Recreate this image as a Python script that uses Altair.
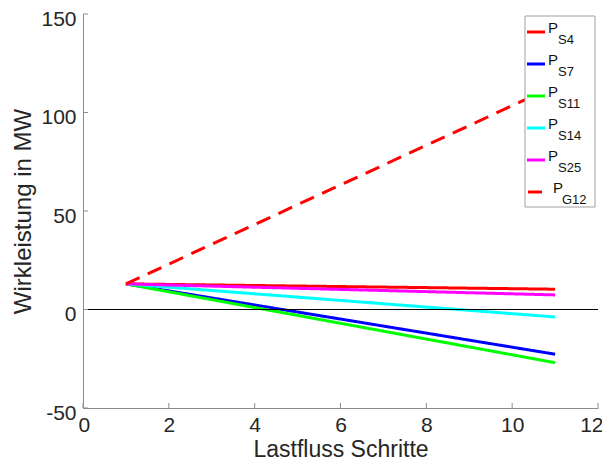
import altair as alt
import pandas as pd

# ---- data ----
steps = [1, 11]
series_names = ["S4", "S7", "S11", "S14", "S25", "G12"]
p_s4 = [13.0, 10.3]
p_s7 = [13.0, -22.7]
p_s11 = [13.0, -27.0]
p_s14 = [13.0, -3.8]
p_s25 = [13.0, 7.4]
p_g12 = [13.0, 113.5]
colors = ["#ff0000", "#0000ff", "#00ff00", "#00ffff", "#ff00ff", "#ff0000"]
x_ticks = [0, 2, 4, 6, 8, 10, 12]
y_ticks = [-50, 0, 50, 100, 150]

W, H = 515, 394
FONT = "Liberation Sans"
GRAY = "#8c8c8c"
TXT = "#262626"

rows = []
for name, vals in zip(series_names, [p_s4, p_s7, p_s11, p_s14, p_s25, p_g12]):
    for s, v in zip(steps, vals):
        rows.append({"series": name, "step": s, "value": v})
df = pd.DataFrame(rows)

xscale = alt.Scale(domain=[0, 12], nice=False, zero=False)
yscale = alt.Scale(domain=[-50, 150], nice=False, zero=False)
cscale = alt.Scale(domain=series_names, range=colors)
dscale = alt.Scale(domain=series_names, range=[[1, 0]] * 5 + [[15, 9]])

xaxis = alt.Axis(values=x_ticks, labelExpr="'' + datum.value", labelFlush=True,
                 labelFlushOffset=5, labelOverlap=False,
                 labelBaseline="alphabetic", labelPadding=23,
                 titleY=48, titleBaseline="alphabetic", titleFontSize=23)
yaxis = alt.Axis(values=y_ticks, labelExpr="'' + datum.value", labelOverlap=False,
                 labelBaseline="alphabetic", labelOffset=11,
                 labelPadding=7, titleX=-53, titleY=197,
                 titleAngle=270, titleAlign="center",
                 titleBaseline="alphabetic")
XT = "Lastfluss Schritte"
YT = "Wirkleistung in MW"

lines = alt.Chart(df).mark_line(strokeWidth=3).encode(
    x=alt.X("step:Q", scale=xscale, title=XT, axis=xaxis),
    y=alt.Y("value:Q", scale=yscale, title=YT, axis=yaxis),
    color=alt.Color("series:N", scale=cscale, legend=None),
    strokeDash=alt.StrokeDash("series:N", scale=dscale, legend=None),
)

zero = alt.Chart(pd.DataFrame({"value": [0]})).mark_rule(color="black", strokeWidth=1).encode(
    y=alt.Y("value:Q", scale=yscale, title=YT, axis=yaxis)
)

xt = alt.Chart(pd.DataFrame({"step": x_ticks})).mark_rule(color=GRAY, strokeWidth=1).encode(
    x=alt.X("step:Q", scale=xscale, title=XT, axis=xaxis),
    y=alt.value(H), y2=alt.value(H - 5),
)
yt = alt.Chart(pd.DataFrame({"value": y_ticks})).mark_rule(color=GRAY, strokeWidth=1).encode(
    y=alt.Y("value:Q", scale=yscale, title=YT, axis=yaxis),
    x=alt.value(0), x2=alt.value(5),
)

# ---- legend (drawn manually so the subscripts are real text) ----
n = len(series_names)
leg = pd.DataFrame({"series": series_names, "sub": series_names})
leg["ly"] = [18 + 32 * i for i in range(n)]
leg["x1"] = [444] * (n - 1) + [445]
leg["x2"] = [462] * (n - 1) + [459]
leg["px"] = [465] * (n - 1) + [470]
leg["sx"] = [475] * (n - 1) + [479]
leg["pyb"] = leg["ly"] + 1
leg["syb"] = leg["ly"] + 12

box = alt.Chart(pd.DataFrame({"a": [0]})).mark_rect(
    fill="white", stroke="#a0a0a0", strokeWidth=1
).encode(x=alt.value(442), x2=alt.value(512), y=alt.value(2), y2=alt.value(193))

leg_lines = alt.Chart(leg).mark_rule(strokeWidth=3).encode(
    x=alt.X("x1:Q", scale=None),
    x2="x2:Q",
    y=alt.Y("ly:Q", scale=None),
    color=alt.Color("series:N", scale=cscale, legend=None),
)
leg_p = alt.Chart(leg).mark_text(
    text="P", font=FONT, fontSize=15, align="left", baseline="alphabetic", color="#111111"
).encode(
    x=alt.X("px:Q", scale=None),
    y=alt.Y("pyb:Q", scale=None),
)
leg_sub = alt.Chart(leg).mark_text(
    font=FONT, fontSize=13, align="left", baseline="alphabetic", color="#111111"
).encode(
    x=alt.X("sx:Q", scale=None),
    y=alt.Y("syb:Q", scale=None),
    text="sub:N",
)

chart = alt.layer(lines, zero, xt, yt, box, leg_lines, leg_p, leg_sub).properties(
    width=W, height=H,
    autosize=alt.AutoSizeParams(type="none"),
    padding={"left": 75, "top": 6, "right": 4, "bottom": 54},
).configure_view(stroke=None).configure_axis(
    grid=False, ticks=False, domainColor=GRAY, domainWidth=1,
    labelFont=FONT, labelFontSize=21, labelColor=TXT,
    titleFont=FONT, titleFontSize=24, titleColor=TXT, titleFontWeight="normal",
)

chart.save("out.html", embed_options={"renderer": "svg", "actions": False})
